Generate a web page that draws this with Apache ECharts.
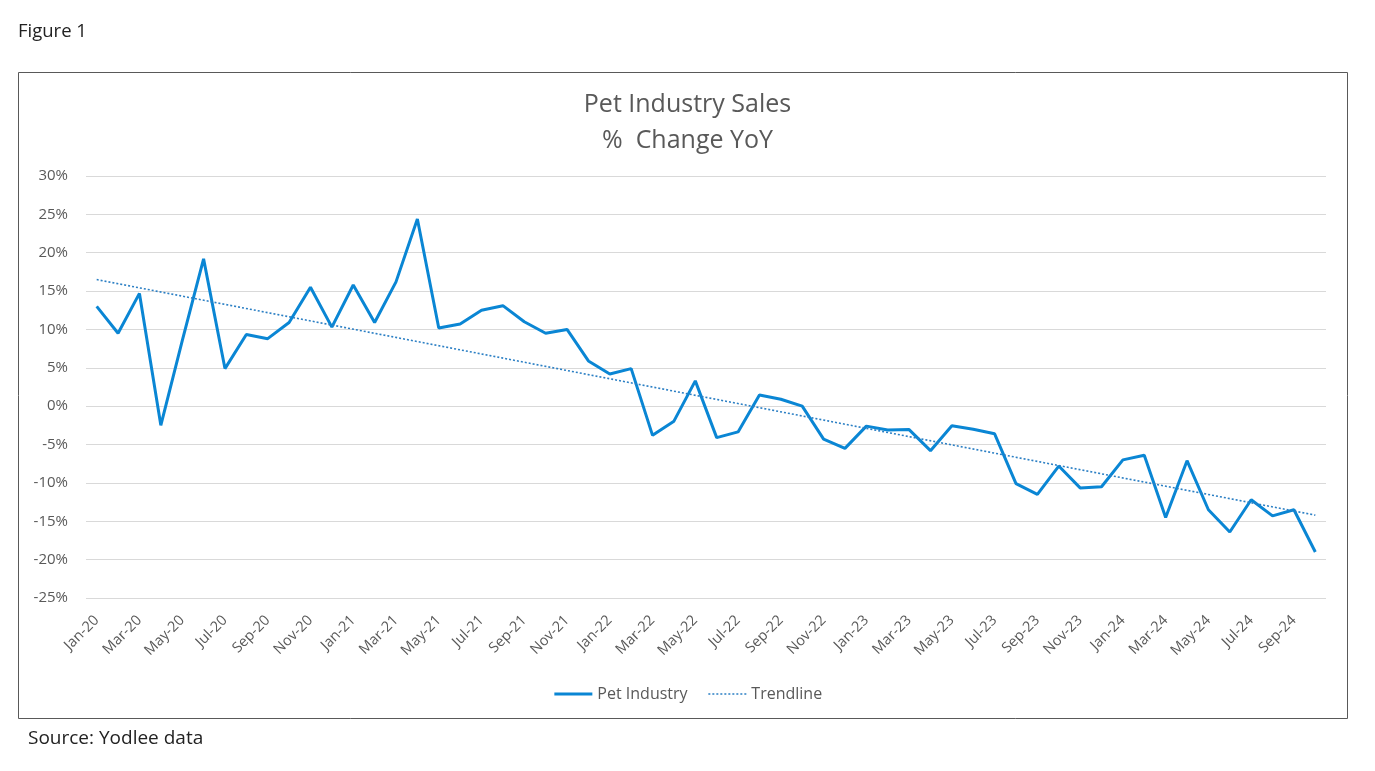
<!DOCTYPE html>
<html>
<head>
<meta charset="utf-8">
<script src="https://cdn.jsdelivr.net/npm/echarts@6/dist/echarts.min.js"></script>
<style>
html,body{margin:0;padding:0;background:#fff;}
#chart{width:1375px;height:771px;}
</style>
</head>
<body>
<div id="chart"></div>
<script>
const categories = [
  'Jan-20','Feb-20','Mar-20','Apr-20','May-20','Jun-20','Jul-20','Aug-20','Sep-20','Oct-20','Nov-20','Dec-20',
  'Jan-21','Feb-21','Mar-21','Apr-21','May-21','Jun-21','Jul-21','Aug-21','Sep-21','Oct-21','Nov-21','Dec-21',
  'Jan-22','Feb-22','Mar-22','Apr-22','May-22','Jun-22','Jul-22','Aug-22','Sep-22','Oct-22','Nov-22','Dec-22',
  'Jan-23','Feb-23','Mar-23','Apr-23','May-23','Jun-23','Jul-23','Aug-23','Sep-23','Oct-23','Nov-23','Dec-23',
  'Jan-24','Feb-24','Mar-24','Apr-24','May-24','Jun-24','Jul-24','Aug-24','Sep-24','Oct-24'
];
const petIndustry = [
  13.0, 9.5, 14.7, -2.5, 8.5, 19.2, 4.9, 9.35, 8.8, 10.9, 15.5, 10.3,
  15.8, 10.9, 16.2, 24.4, 10.2, 10.7, 12.5, 13.1, 11.0, 9.5, 10.0, 5.9,
  4.2, 4.9, -3.8, -1.95, 3.3, -4.1, -3.35, 1.45, 0.9, 0.0, -4.3, -5.5,
  -2.6, -3.1, -3.05, -5.8, -2.55, -3.0, -3.6, -10.1, -11.5, -7.8, -10.65, -10.5,
  -7.0, -6.4, -14.5, -7.1, -13.5, -16.4, -12.2, -14.3, -13.5, -19.0
];
// Trendline endpoint values (first and last month)
const trendEnds = [16.5, -14.2];
const yTicks = { min: -25, max: 30, interval: 5 };

const trendData = categories.map((c, i) =>
  i === 0 ? trendEnds[0] : (i === categories.length - 1 ? trendEnds[1] : null));

const FONT = '"Open Sans", "Noto Sans", sans-serif';
const chart = echarts.init(document.getElementById('chart'));
chart.setOption({
  animation: false,
  textStyle: { fontFamily: FONT },
  title: {
    text: 'Pet Industry Sales\n%  Change YoY',
    left: 'center',
    top: 82,
    textStyle: { fontSize: 25, fontWeight: 'normal', color: '#595959', lineHeight: 36, fontFamily: FONT }
  },
  graphic: [
    { type: 'rect', shape: { x: 18.5, y: 72.5, width: 1329, height: 646 },
      style: { fill: 'none', stroke: '#595959', lineWidth: 1 }, z: -1 },
    { type: 'text', left: 18, top: 22, style: { text: 'Figure 1', fontSize: 18.5, fill: '#222', fontFamily: FONT } },
    { type: 'text', left: 28, top: 729, style: { text: 'Source: Yodlee data', fontSize: 19, fill: '#222', fontFamily: FONT } }
  ],
  grid: { left: 86, right: 49, top: 176, bottom: 173, containLabel: false },
  legend: {
    bottom: 64,
    left: 'center',
    itemWidth: 38,
    itemHeight: 12,
    itemGap: 20,
    itemStyle: { opacity: 0 },
    textStyle: { fontSize: 16, color: '#595959', fontFamily: FONT },
    data: [
      { name: 'Pet Industry', lineStyle: { width: 3 } },
      { name: 'Trendline', lineStyle: { width: 1.5 } }
    ]
  },
  xAxis: {
    type: 'category',
    data: categories,
    boundaryGap: true,
    axisLine: { show: false },
    axisTick: { show: false },
    axisLabel: { interval: 1, rotate: 45, fontSize: 14.5, color: '#595959', margin: 20, fontFamily: FONT }
  },
  yAxis: {
    type: 'value',
    min: yTicks.min, max: yTicks.max, interval: yTicks.interval,
    axisLine: { show: false },
    axisTick: { show: false },
    axisLabel: { formatter: '{value}%', fontSize: 15, color: '#595959', margin: 18, fontFamily: FONT },
    splitLine: { lineStyle: { color: '#d9d9d9', width: 1 } }
  },
  series: [
    {
      name: 'Pet Industry', type: 'line', data: petIndustry,
      symbol: 'none', lineStyle: { color: '#0A86D4', width: 3 }, itemStyle: { color: '#0A86D4' }
    },
    {
      name: 'Trendline', type: 'line', data: trendData, connectNulls: true,
      symbol: 'none', lineStyle: { color: '#2B7FC4', width: 1.6, type: [2, 2] }, itemStyle: { color: '#2B7FC4' }
    }
  ]
});
</script>
</body>
</html>
